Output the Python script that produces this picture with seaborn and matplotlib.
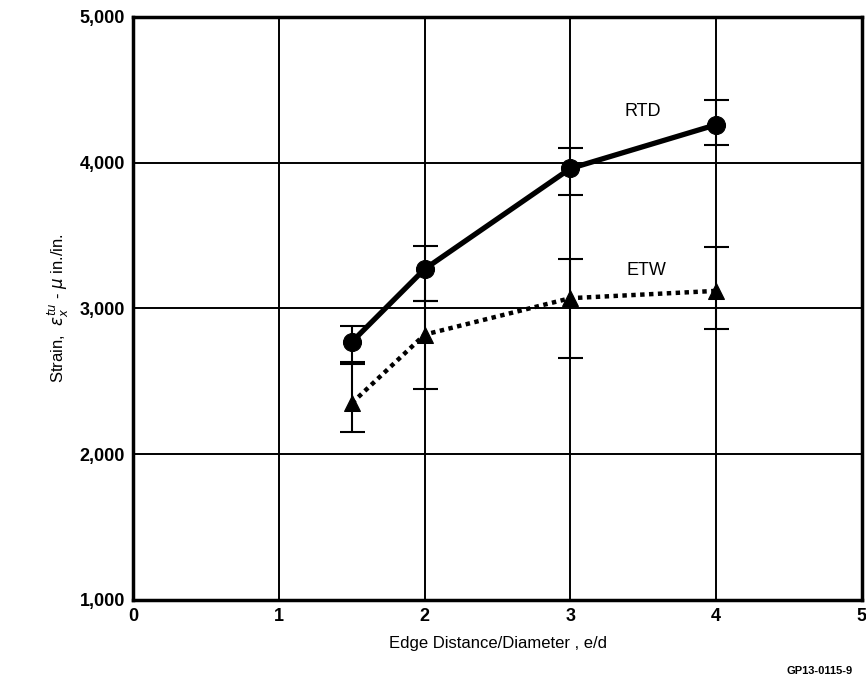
import pandas as pd
import matplotlib
matplotlib.use("Agg")
import matplotlib.pyplot as plt
import seaborn as sns

# values
ed = [1.5, 2, 3, 4]
rtd = [2770, 3270, 3960, 4260]
rtd_lo = [2630, 3050, 3780, 4120]
rtd_hi = [2880, 3430, 4100, 4430]
etw = [2350, 2820, 3070, 3120]
etw_lo = [2150, 2450, 2660, 2860]
etw_hi = [2620, 3050, 3340, 3420]

x_ticks = [0, 1, 2, 3, 4, 5]
y_ticks = [1000, 2000, 3000, 4000, 5000]

sns.set_style("white")
plt.rcParams["font.family"] = ["Liberation Sans", "DejaVu Sans"]
plt.rcParams.update({"text.color": "black", "axes.labelcolor": "black",
                     "xtick.color": "black", "ytick.color": "black"})

df = pd.DataFrame({"ed": ed, "RTD": rtd, "ETW": etw})

fig = plt.figure(figsize=(8.66, 6.77), dpi=100)
ax = fig.add_axes([0.154, 0.114, 0.841, 0.861])

# error bars first, then the curves
ax.errorbar(ed, rtd, yerr=[[r - l for r, l in zip(rtd, rtd_lo)], [h - r for r, h in zip(rtd, rtd_hi)]],
            fmt="none", ecolor="black", elinewidth=1.5, capsize=9, capthick=1.5, zorder=3)
ax.errorbar(ed, etw, yerr=[[e - l for e, l in zip(etw, etw_lo)], [h - e for e, h in zip(etw, etw_hi)]],
            fmt="none", ecolor="black", elinewidth=1.5, capsize=9, capthick=1.5, zorder=3)

sns.lineplot(data=df, x="ed", y="RTD", ax=ax, color="black", linewidth=3.8,
             marker="o", markersize=13, markeredgecolor="black", zorder=4)
sns.lineplot(data=df, x="ed", y="ETW", ax=ax, color="black", linewidth=3.2,
             linestyle=(0, (1, 1)), dash_capstyle="butt", marker="^", markersize=11,
             markeredgecolor="black", zorder=4)

ax.text(3.5, 4350, "RTD", fontsize=13, ha="center", va="center")
ax.text(3.52, 3260, "ETW", fontsize=13, ha="center", va="center")

ax.set_xlim(0, 5)
ax.set_ylim(1000, 5000)
ax.set_xticks(x_ticks)
ax.set_yticks(y_ticks)
ax.set_yticklabels([f"{v:,}" for v in y_ticks])
ax.grid(True, color="black", linewidth=1.4)
ax.tick_params(length=0, labelsize=13, pad=6)
for lab in ax.get_xticklabels() + ax.get_yticklabels():
    lab.set_fontweight("bold")
for s in ax.spines.values():
    s.set_visible(True)
    s.set_color("black")
    s.set_linewidth(2.5)

ax.set_xlabel("Edge Distance/Diameter , e/d", fontsize=12, labelpad=8)
ax.set_ylabel(r"Strain,  $\epsilon_x^{tu}$ - $\mu$ in./in.", fontsize=12, labelpad=6)

fig.text(0.985, 0.002, "GP13-0115-9", fontsize=8, fontweight="bold", ha="right", va="bottom")

fig.savefig("out.png", dpi=100, facecolor="white")
plt.close(fig)
